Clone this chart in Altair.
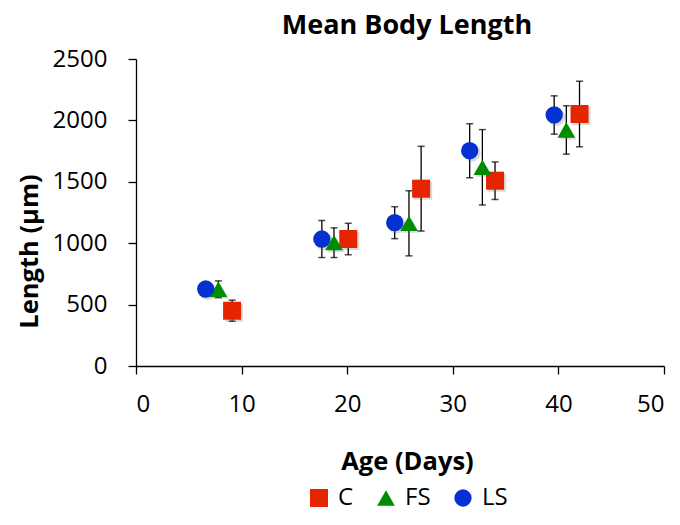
import altair as alt
import pandas as pd

series = ["C", "FS", "LS"]
colors = ["#E52400", "#008C00", "#0530D2"]
shapes = ["square", "triangle-up", "circle"]

days_C = [9.1, 20.1, 27.0, 34.0, 42.0]
len_C = [450, 1034, 1444, 1509, 2052]
err_C = [86, 128, 345, 153, 267]

days_FS = [7.8, 18.75, 25.85, 32.8, 40.75]
len_FS = [625, 1004, 1162, 1618, 1922]
err_FS = [68, 121, 265, 307, 197]

days_LS = [6.6, 17.6, 24.5, 31.6, 39.6]
len_LS = [627, 1034, 1167, 1753, 2044]
err_LS = [30, 151, 130, 220, 156]

rows = []
for name, d, l, e in [("C", days_C, len_C, err_C), ("FS", days_FS, len_FS, err_FS), ("LS", days_LS, len_LS, err_LS)]:
    for di, li, ei in zip(d, l, e):
        rows.append({"series": name, "day": di, "length": li, "lo": li - ei, "hi": li + ei})
df = pd.DataFrame(rows)

FONT = "Open Sans"

x_enc = alt.X("day:Q", scale=alt.Scale(domain=[0, 50], nice=False),
              axis=alt.Axis(values=[0, 10, 20, 30, 40, 50], format="d", title="Age (Days)", titleX=271))
y_enc = alt.Y("lo:Q", scale=alt.Scale(domain=[0, 2500], nice=False),
              axis=alt.Axis(values=[0, 500, 1000, 1500, 2000, 2500], format="d",
                            title="Length (µm)", titleY=192))

base = alt.Chart(df)

rules = base.mark_rule(color="black", strokeWidth=1.3).encode(x=x_enc, y=y_enc, y2="hi:Q")
cap_hi = base.mark_tick(color="black", orient="horizontal", size=7, thickness=1.5).encode(x="day:Q", y="hi:Q")
cap_lo = base.mark_tick(color="black", orient="horizontal", size=7, thickness=1.5).encode(x="day:Q", y="lo:Q")

shadows = []
for s, shp, sz in zip(series, shapes, [324, 300, 324]):
    shadows.append(
        base.transform_filter(alt.datum.series == s)
        .mark_point(filled=True, shape=shp, size=sz, color="#555555", opacity=0.22, xOffset=2, yOffset=2)
        .encode(x="day:Q", y="length:Q")
    )

leg = alt.Legend(title=None, orient="none", direction="horizontal",
                 legendX=171, legendY=427, labelFontSize=24, labelFont=FONT,
                 symbolSize=256, labelOffset=7, columnPadding=20,
                 symbolStrokeWidth=0)

points = base.mark_point(filled=True, opacity=1).encode(
    x="day:Q",
    y="length:Q",
    color=alt.Color("series:N", scale=alt.Scale(domain=series, range=colors), legend=leg),
    shape=alt.Shape("series:N", scale=alt.Scale(domain=series, range=shapes), legend=leg),
    size=alt.Size("series:N", scale=alt.Scale(domain=series, range=[324, 300, 324]), legend=None),
)

chart = alt.layer(rules, cap_hi, cap_lo, *shadows, points).properties(
    width=528,
    height=307,
    title=alt.TitleParams("Mean Body Length", fontSize=27, fontWeight="bold", font=FONT,
                          offset=7, dx=7, color="black"),
    autosize=alt.AutoSizeParams(type="none"),
    padding={"left": 128, "top": 51, "right": 8, "bottom": 147},
).configure_view(stroke=None).configure_axis(
    grid=False,
    domainColor="black",
    domainWidth=1.3,
    tickColor="black",
    tickWidth=1.3,
    tickSize=8,
    labelFont=FONT,
    labelFontSize=24,
    labelColor="black",
    titleFont=FONT,
    titleFontSize=25.5,
    titleFontWeight="bold",
    titleColor="black",
).configure_axisX(
    labelPadding=18,
    titlePadding=33,
).configure_axisY(
    labelPadding=21,
    titlePadding=10,
)

chart.save("out.html", embed_options={"renderer": "svg", "actions": False})
